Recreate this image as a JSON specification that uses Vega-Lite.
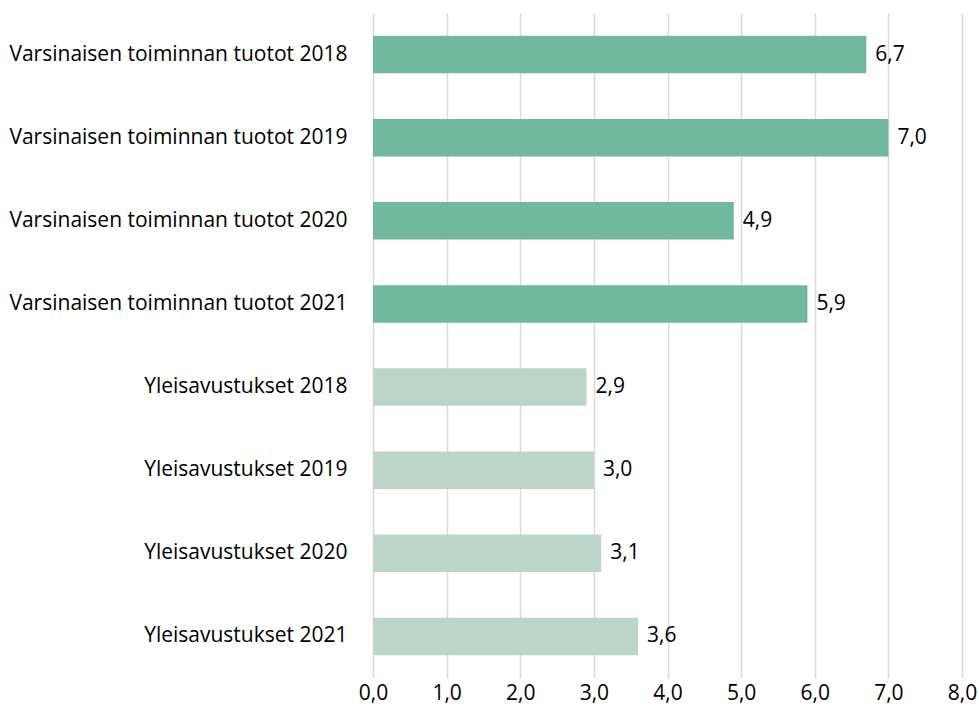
{
  "$schema": "https://vega.github.io/schema/vega-lite/v6.json",
  "autosize": "none",
  "width": 589,
  "height": 665,
  "padding": {"left": 373, "top": 13, "right": 17, "bottom": 33},
  "background": "white",
  "config": {
    "view": {"stroke": null},
    "font": "Open Sans",
    "locale": {
      "number": {"decimal": ",", "thousands": " ", "grouping": [3], "currency": ["", " €"]}
    }
  },
  "data": {
    "values": [
      {"label": "Varsinaisen toiminnan tuotot 2018", "value": 6.7, "group": "V"},
      {"label": "Varsinaisen toiminnan tuotot 2019", "value": 7.0, "group": "V"},
      {"label": "Varsinaisen toiminnan tuotot 2020", "value": 4.9, "group": "V"},
      {"label": "Varsinaisen toiminnan tuotot 2021", "value": 5.9, "group": "V"},
      {"label": "Yleisavustukset 2018", "value": 2.9, "group": "Y"},
      {"label": "Yleisavustukset 2019", "value": 3.0, "group": "Y"},
      {"label": "Yleisavustukset 2020", "value": 3.1, "group": "Y"},
      {"label": "Yleisavustukset 2021", "value": 3.6, "group": "Y"}
    ]
  },
  "encoding": {
    "y": {
      "field": "label",
      "type": "nominal",
      "sort": null,
      "scale": {"paddingInner": 0.55, "paddingOuter": 0.275},
      "axis": {
        "title": null,
        "domain": false,
        "ticks": false,
        "labelPadding": 26,
        "labelFontSize": 21,
        "labelColor": "#000000",
        "labelFont": "Open Sans",
        "labelLimit": 400
      }
    },
    "x": {
      "field": "value",
      "type": "quantitative",
      "scale": {"domain": [0, 8], "nice": false},
      "axis": {
        "title": null,
        "values": [0, 1, 2, 3, 4, 5, 6, 7, 8],
        "format": ".1f",
        "domain": false,
        "ticks": false,
        "grid": true,
        "gridColor": "#d9d9d9",
        "gridWidth": 1.5,
        "labelPadding": 4,
        "labelFontSize": 21,
        "labelColor": "#000000",
        "labelFont": "Open Sans",
        "labelFlush": false
      }
    }
  },
  "layer": [
    {
      "mark": {"type": "bar"},
      "encoding": {
        "color": {
          "field": "group",
          "type": "nominal",
          "scale": {"domain": ["V", "Y"], "range": ["#70b99e", "#bbd6c9"]},
          "legend": null
        }
      }
    },
    {
      "mark": {"type": "text", "align": "left", "baseline": "middle", "dx": 9, "fontSize": 21, "font": "Open Sans", "color": "#000000"},
      "encoding": {
        "text": {"field": "value", "type": "quantitative", "format": ".1f"}
      }
    }
  ]
}
